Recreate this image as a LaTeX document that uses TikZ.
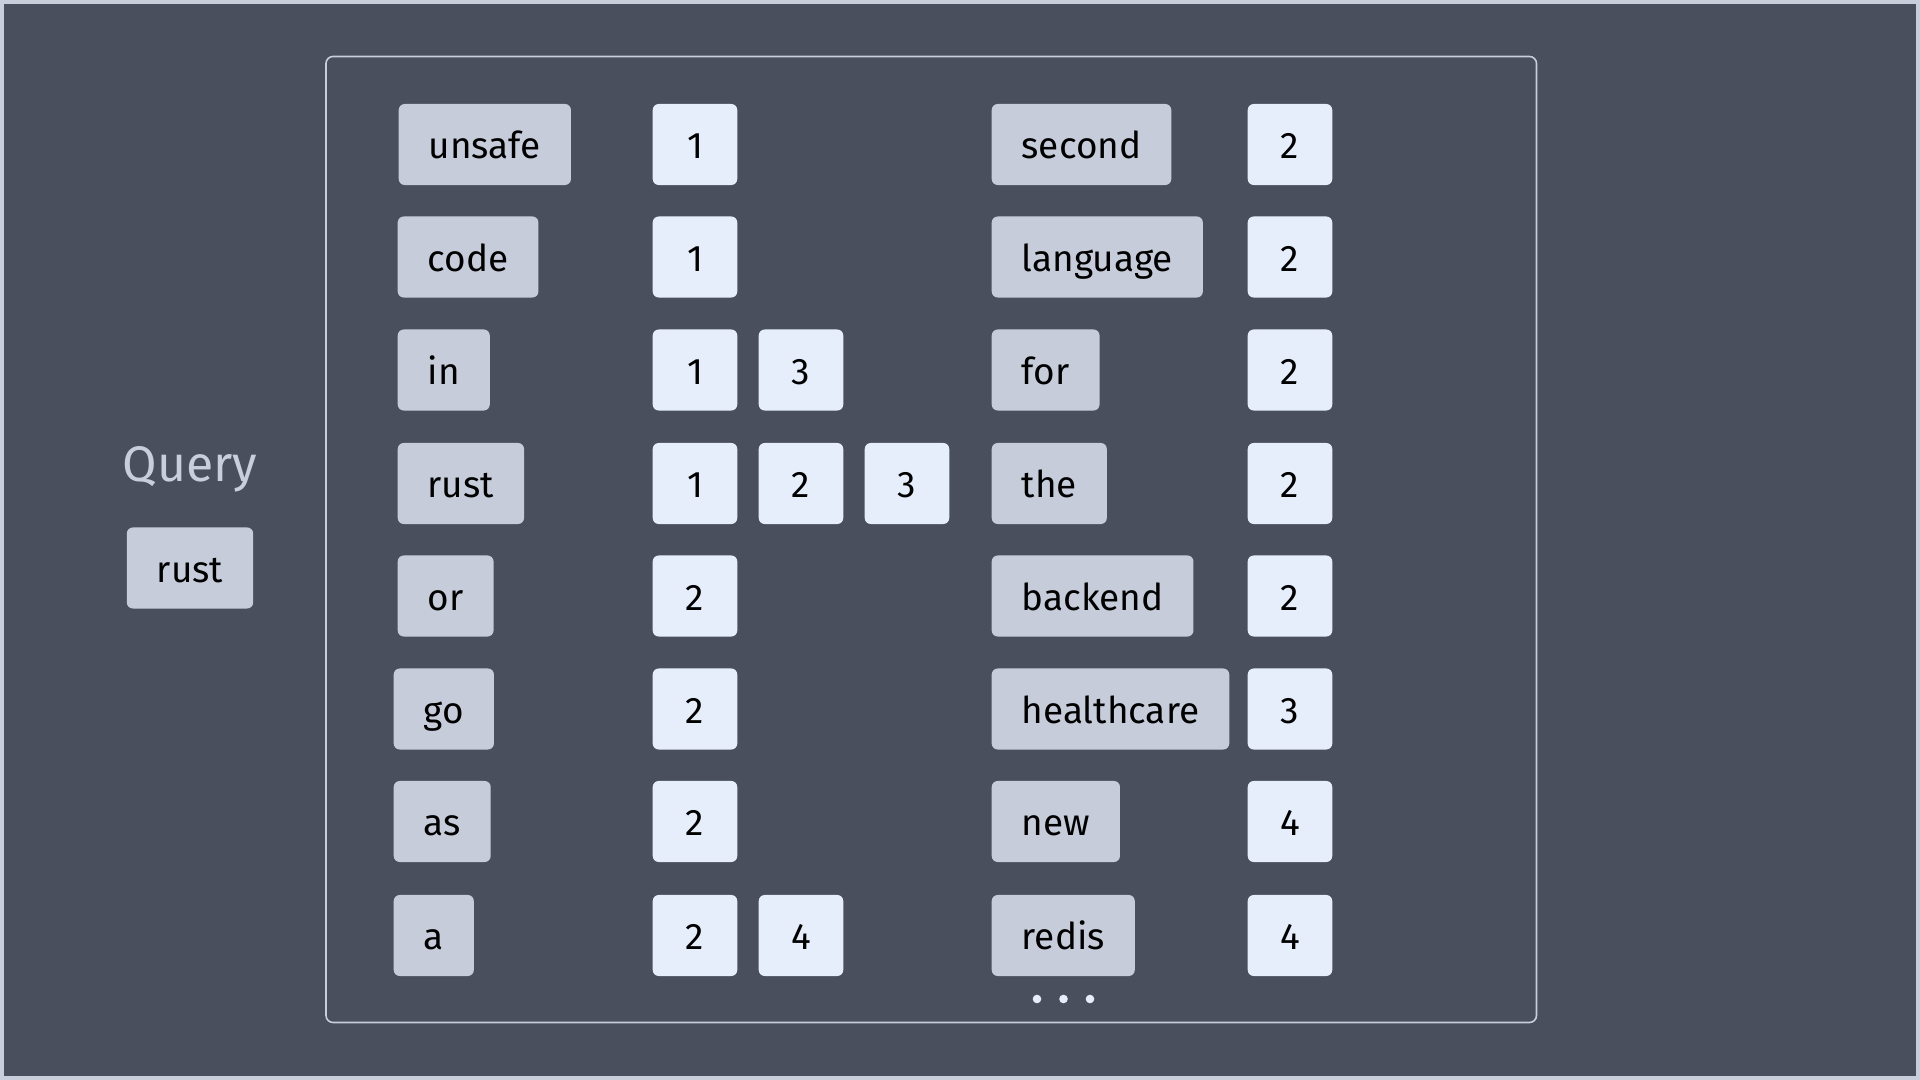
\documentclass[tikz,border=0pt]{standalone}
\usepackage{fontspec}
\setmainfont{Fira Sans}
\definecolor{bgdark}{HTML}{4A4F5E}
\definecolor{edgegray}{HTML}{C8CEDA}
\definecolor{wordgray}{HTML}{C6CCDA}
\definecolor{numblue}{HTML}{E6EEFC}
\tikzset{
  box/.style={rounded corners=0.06cm,minimum height=0.81cm,inner ysep=0pt,text height=0.8em,text depth=0pt,font=\fontsize{10.5}{12}\selectfont},
  word/.style={box,fill=wordgray,inner xsep=0.3cm,anchor=west},
  num/.style={box,fill=numblue,minimum width=0.845cm,inner xsep=0pt},
}
\begin{document}
\begin{tikzpicture}[x=0.01cm,y=-0.01cm]
        \useasboundingbox(0,0)rectangle(1920,1080);
        \fill[edgegray](0,0)rectangle(1920,1080);
        \fill[bgdark](4,4)rectangle(1916,1076);
        \draw[edgegray,line width=0.45pt,rounded corners=0.07cm](326,56.5)rectangle(1536.5,1022.5);

        \node[text=edgegray,font=\fontsize{14.2}{16}\selectfont](query)at(190,469){Query};
        \node[word,anchor=center](qrust)at(190,568){rust};

        % terms, first column
        \node[word](unsafe)at(398,144.5){unsafe};
        \node[word](code)at(397,257){code};
        \node[word](in)at(397,370){in};
        \node[word](rust)at(397,483.5){rust};
        \node[word](or)at(397,596){or};
        \node[word](go)at(393,709){go};
        \node[word](as)at(393,821.5){as};
        \node[word](a)at(393,935.5){a};

        % postings, first column
        \node[num](unsafe1)at(695,144.5){1};
        \node[num](code1)at(695,257){1};
        \node[num](in1)at(695,370){1};
        \node[num](in2)at(801,370){3};
        \node[num](rust1)at(695,483.5){1};
        \node[num](rust2)at(801,483.5){2};
        \node[num](rust3)at(907,483.5){3};
        \node[num](or1)at(695,596){2};
        \node[num](go1)at(695,709){2};
        \node[num](as1)at(695,821.5){2};
        \node[num](a1)at(695,935.5){2};
        \node[num](a2)at(801,935.5){4};

        % terms, second column
        \node[word](second)at(991,144.5){second};
        \node[word](language)at(991,257){language};
        \node[word](for)at(991,370){for};
        \node[word](the)at(991,483.5){the};
        \node[word](backend)at(991,596){backend};
        \node[word](healthcare)at(991,709){healthcare};
        \node[word](new)at(991,821.5){new};
        \node[word](redis)at(991,935.5){redis};

        % postings, second column
        \node[num](second1)at(1290,144.5){2};
        \node[num](language1)at(1290,257){2};
        \node[num](for1)at(1290,370){2};
        \node[num](the1)at(1290,483.5){2};
        \node[num](backend1)at(1290,596){2};
        \node[num](healthcare1)at(1290,709){3};
        \node[num](new1)at(1290,821.5){4};
        \node[num](redis1)at(1290,935.5){4};

        \fill[numblue](1037,999)circle(0.043cm);
        \fill[numblue](1063.5,999)circle(0.043cm);
        \fill[numblue](1090,999)circle(0.043cm);
    \end{tikzpicture}
\end{document}
